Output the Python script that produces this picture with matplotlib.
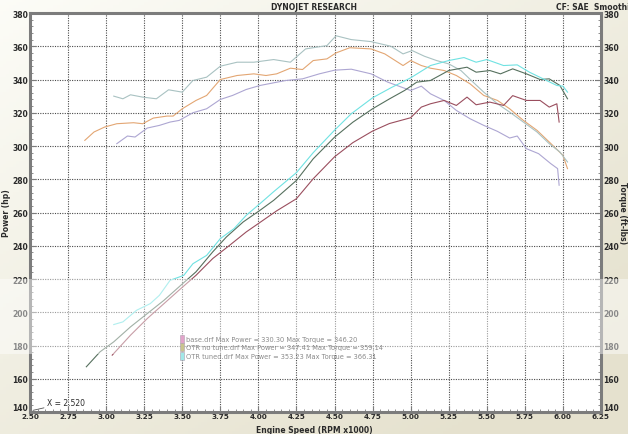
import numpy as np
import matplotlib
matplotlib.use("Agg")
import matplotlib.pyplot as plt
import matplotlib.patches as mpatches
from matplotlib.ticker import MultipleLocator

# ── data (rpm x1000, hp / ft-lbs) ─────────────────────────────────────────────
base_hp_rpm = [3.04, 3.16, 3.27, 3.38, 3.49, 3.59, 3.70, 3.81, 3.92, 4.01, 4.12,
               4.25, 4.36, 4.50, 4.62, 4.75, 4.86, 5.00, 5.07, 5.13, 5.22, 5.30,
               5.37, 5.43, 5.52, 5.61, 5.67, 5.76, 5.85, 5.91, 5.96, 5.975]
base_hp = [174.2, 186.2, 196.2, 205.2, 214.2, 222.2, 232.3, 240.2, 248.3, 254.0, 261.0,
           268.3, 280.3, 293.5, 302.0, 309.0, 313.5, 317.0, 323.4, 325.4, 327.4, 324.4,
           329.4, 324.8, 326.4, 324.4, 330.3, 327.4, 327.4, 323.4, 325.4, 314.4]

base_tq_rpm = [3.07, 3.14, 3.19, 3.27, 3.35, 3.42, 3.48, 3.57, 3.66, 3.75, 3.83,
               3.92, 4.01, 4.10, 4.18, 4.29, 4.40, 4.50, 4.61, 4.74, 4.85, 4.94,
               5.00, 5.07, 5.13, 5.22, 5.30, 5.39, 5.48, 5.57, 5.65, 5.70, 5.76,
               5.84, 5.92, 5.965, 5.975]
base_tq = [301.4, 306.0, 305.4, 310.8, 312.4, 314.4, 315.4, 320.0, 322.4, 328.0, 330.4,
           334.0, 336.4, 338.0, 339.4, 340.4, 343.4, 345.6, 346.2, 343.4, 338.4, 335.4,
           333.4, 336.0, 331.4, 327.4, 321.4, 316.4, 312.4, 308.8, 304.8, 306.0, 298.4,
           295.4, 289.4, 286.4, 276.4]

notune_hp_rpm = [2.87, 2.96, 3.05, 3.16, 3.27, 3.38, 3.49, 3.59, 3.70, 3.79, 3.90,
                 4.01, 4.10, 4.25, 4.36, 4.50, 4.62, 4.75, 4.86, 4.96, 5.04, 5.13,
                 5.25, 5.37, 5.43, 5.52, 5.59, 5.67, 5.76, 5.85, 5.91, 5.98, 6.03]
notune_hp = [167.2, 176.2, 182.2, 191.2, 199.2, 207.2, 216.2, 224.3, 236.3, 245.3, 254.3,
             261.3, 267.3, 279.3, 292.3, 305.3, 314.3, 322.4, 328.3, 333.4, 338.4, 339.4,
             345.4, 347.4, 344.4, 345.4, 343.4, 346.4, 343.4, 340.0, 340.4, 336.4, 328.4]

notune_tq_rpm = [2.86, 2.92, 2.99, 3.07, 3.18, 3.24, 3.31, 3.40, 3.44, 3.50, 3.59,
                 3.66, 3.75, 3.86, 3.97, 4.05, 4.12, 4.21, 4.29, 4.36, 4.45, 4.51,
                 4.60, 4.74, 4.83, 4.95, 5.00, 5.07, 5.13, 5.22, 5.30, 5.39, 5.48,
                 5.57, 5.65, 5.74, 5.83, 5.91, 6.00, 6.03]
notune_tq = [303.4, 308.4, 311.4, 313.4, 314.0, 313.4, 316.8, 318.0, 318.0, 322.4, 327.4,
             330.4, 340.0, 342.4, 343.4, 342.4, 343.4, 346.8, 346.0, 351.4, 352.4, 356.0,
             359.1, 358.4, 355.4, 348.4, 351.4, 348.4, 346.8, 345.4, 342.4, 337.4, 330.4,
             327.4, 322.4, 315.4, 309.4, 302.4, 294.4, 286.4]

tuned_hp_rpm = [3.05, 3.11, 3.20, 3.29, 3.35, 3.42, 3.51, 3.57, 3.66, 3.75, 3.84,
                3.92, 4.01, 4.10, 4.25, 4.36, 4.50, 4.61, 4.75, 4.87, 5.00, 5.13,
                5.25, 5.35, 5.43, 5.50, 5.61, 5.70, 5.78, 5.87, 5.96, 6.00, 6.03]
tuned_hp = [192.6, 194.2, 201.2, 205.2, 210.2, 219.2, 222.2, 229.2, 234.2, 244.3, 250.3,
            258.3, 265.3, 272.5, 284.0, 296.0, 309.5, 319.4, 329.0, 335.0, 341.0, 348.4,
            351.4, 353.2, 350.4, 352.0, 348.4, 348.8, 344.4, 340.4, 336.4, 336.0, 332.4]

tuned_tq_rpm = [3.05, 3.11, 3.16, 3.24, 3.33, 3.41, 3.50, 3.57, 3.66, 3.75, 3.86,
                3.97, 4.10, 4.21, 4.31, 4.45, 4.51, 4.61, 4.74, 4.87, 4.95, 5.01,
                5.09, 5.17, 5.25, 5.33, 5.41, 5.48, 5.57, 5.65, 5.74, 5.83, 5.91,
                5.98, 6.03]
tuned_tq = [330.0, 328.4, 330.8, 329.4, 328.4, 333.8, 332.4, 339.4, 341.4, 348.0, 350.4,
            350.4, 352.0, 350.4, 358.4, 360.4, 366.3, 364.0, 362.8, 360.0, 355.4, 357.4,
            354.0, 351.4, 349.4, 345.4, 338.4, 332.4, 325.4, 320.4, 314.4, 308.4, 301.4,
            296.4, 290.4]

legend_lines = [
    "base.drf Max Power = 330.30 Max Torque = 346.20",
    "OTR no tune.drf Max Power = 347.41 Max Torque = 359.14",
    "OTR tuned.drf Max Power = 353.23 Max Torque = 366.31",
]
x_ticks = [2.50, 2.75, 3.00, 3.25, 3.50, 3.75, 4.00, 4.25, 4.50, 4.75,
           5.00, 5.25, 5.50, 5.75, 6.00, 6.25]
y_ticks = [140, 160, 180, 200, 220, 240, 260, 280, 300, 320, 340, 360, 380]

# ── colours ───────────────────────────────────────────────────────────────────
COL = {
    "base_hp":   "#9A4E5E",
    "base_tq":   "#ADA6D2",
    "notune_hp": "#56705E",
    "notune_tq": "#E3A673",
    "tuned_hp":  "#6FE2E2",
    "tuned_tq":  "#A9C2C2",
}
SWATCH = ["#E2A4CA", "#C9C48E", "#A2E8E8"]
FRAME = "#7C7C7C"
TEXT = "#2A2A2A"
W, H = 628, 435

fig = plt.figure(figsize=(W / 100, H / 100), dpi=100)

# beige paper background with a lighter top-left
bg = fig.add_axes([0, 0, 1, 1], zorder=-10)
gx, gy = np.meshgrid(np.linspace(0, 1, 200), np.linspace(0, 1, 140))
t = np.clip(0.55 * gx + 0.6 * gy, 0, 1)[..., None]
light = np.array([0.99, 0.99, 0.97])
beige = np.array([0.90, 0.885, 0.81])
bg.imshow(light * (1 - t) + beige * t, aspect="auto", extent=[0, 1, 1, 0])
bg.set_axis_off()

# plot area in pixels: x 30..601, y 14..413
ax = fig.add_axes([30 / W, 1 - 413 / H, 571 / W, 399 / H])
ax.set_facecolor("white")
ax.set_xlim(2.5, 6.25)
ax.set_ylim(140, 380)

for rpm, vals, key in [
    (base_tq_rpm, base_tq, "base_tq"),
    (notune_tq_rpm, notune_tq, "notune_tq"),
    (tuned_tq_rpm, tuned_tq, "tuned_tq"),
    (base_hp_rpm, base_hp, "base_hp"),
    (notune_hp_rpm, notune_hp, "notune_hp"),
    (tuned_hp_rpm, tuned_hp, "tuned_hp"),
]:
    ax.plot(rpm, vals, color=COL[key], lw=0.8, zorder=3)

# dotted grid
ax.set_xticks(x_ticks)
ax.set_yticks(y_ticks)
ax.grid(True, color="#4A4A4A", ls=(0, (1, 1.2)), lw=0.8, zorder=1)
ax.xaxis.set_minor_locator(MultipleLocator(0.05))
ax.yaxis.set_minor_locator(MultipleLocator(4))

for sp in ax.spines.values():
    sp.set_color(FRAME)
    sp.set_linewidth(2.2)

ax.tick_params(which="both", direction="in", color=FRAME,
               left=True, right=True, bottom=True, top=False)
ax.tick_params(which="major", length=4, width=0.8)
ax.tick_params(which="minor", length=2, width=0.6)
ax.tick_params(labelleft=True, labelright=True, labelsize=5.5, labelcolor=TEXT)
ax.tick_params(axis="y", which="major", pad=1.5)
ax.tick_params(axis="x", which="major", pad=1.0, labelsize=5.2)
ax.set_xticklabels([f"{v:.2f}" for v in x_ticks], fontweight="bold")
ax.set_yticklabels([str(v) for v in y_ticks], fontweight="bold")
for tk in ax.yaxis.get_major_ticks():
    tk.label2.set_fontweight("bold")
# corner labels sit a touch above the bottom rail
ax.yaxis.get_major_ticks()[0].label1.set_va("bottom")
ax.yaxis.get_major_ticks()[0].label2.set_va("bottom")

# legend block
for i, (txt, sw) in enumerate(zip(legend_lines, SWATCH)):
    ypx = 340 + i * 8.3
    fig.add_artist(mpatches.Rectangle((180 / W, 1 - (ypx + 4) / H), 4 / W, 8 / H,
                                      facecolor=sw, edgecolor="#B0A0B0", lw=0.4,
                                      transform=fig.transFigure, zorder=5))
    fig.text(186 / W, 1 - ypx / H, txt, fontsize=4.8, color="#8A8A8A",
             va="center", ha="left", zorder=5)

# cursor readout
ax.annotate("X = 2.520", xy=(2.52, 141), xytext=(2.61, 145.5),
            fontsize=5.5, color=TEXT, va="center", ha="left",
            arrowprops=dict(arrowstyle="-", color="#555555", lw=0.6,
                            shrinkA=0, shrinkB=0))

# titles and axis names
fig.text(314 / W, 1 - 7 / H, "DYNOJET RESEARCH", fontsize=5.5, fontweight="bold",
         color=TEXT, ha="center", va="center")
fig.text(556 / W, 1 - 7 / H, "CF: SAE  Smoothing: 5", fontsize=5.5, fontweight="bold",
         color=TEXT, ha="left", va="center")
fig.text(314 / W, 1 - 430.5 / H, "Engine Speed (RPM x1000)", fontsize=5.5,
         fontweight="bold", color=TEXT, ha="center", va="center")
fig.text(7 / W, 1 - 213 / H, "Power (hp)", fontsize=5.5, fontweight="bold",
         color=TEXT, rotation=90, ha="center", va="center")
fig.text(623 / W, 1 - 213 / H, "Torque (ft-lbs)", fontsize=5.5, fontweight="bold",
         color=TEXT, rotation=-90, ha="center", va="center")

# washed-out band across the sheet (scan artefact)
fig.add_artist(mpatches.Rectangle((0, 1 - 355 / H), 1, 75 / H, facecolor="white",
                                  alpha=0.45, edgecolor="none",
                                  transform=fig.transFigure, zorder=4))

fig.savefig("out.png", dpi=100)
